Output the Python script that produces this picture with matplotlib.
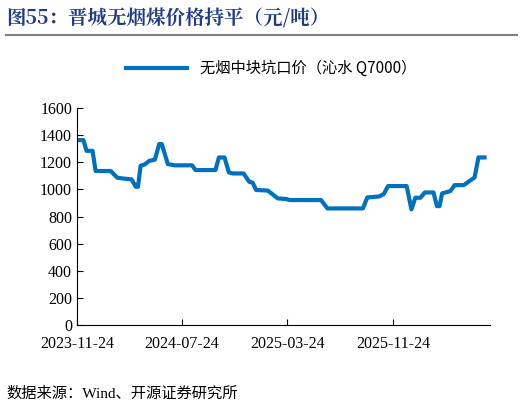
import datetime as dt
import matplotlib
matplotlib.use("Agg")
import matplotlib.pyplot as plt
import matplotlib.dates as mdates

base = dt.date(2023, 11, 24)
# days since 2023-11-24 and price (yuan/ton)
days = [2, 15, 22, 36, 43, 78, 93, 108, 126, 136, 141, 147, 157, 167, 180, 190, 196,
        210, 226, 266, 274, 320, 328, 341, 351, 360, 385, 398, 406, 414, 441, 464,
        483, 491, 564, 579, 661, 671, 698, 709, 719, 762, 773, 782, 794, 804, 824,
        832, 838, 844, 863, 873, 894, 905, 919, 928, 942]
price = [1364, 1364, 1285, 1285, 1136, 1136, 1087, 1080, 1075, 1020, 1020, 1175, 1185,
         1211, 1220, 1335, 1335, 1187, 1178, 1178, 1143, 1143, 1236, 1236, 1126, 1118,
         1118, 1057, 1050, 996, 992, 934, 930, 922, 922, 860, 860, 941, 948, 966, 1025,
         1025, 853, 939, 939, 978, 978, 877, 877, 971, 988, 1032, 1032, 1057, 1089,
         1236, 1236]
tick_dates = ["2023-11-24", "2024-07-24", "2025-03-24", "2025-11-24"]

dates = [base + dt.timedelta(days=d) for d in days]
cjk = ["Noto Sans CJK SC", "DejaVu Sans"]
serif = ["Liberation Serif", "Noto Sans CJK SC"]

fig = plt.figure(figsize=(5.22, 4.08), dpi=100)
ax = fig.add_axes([0.1475, 0.2034, 0.7915, 0.5316])
ax.plot(dates, price, color="#0070C0", lw=3, label="无烟中块坑口价（沁水 Q7000）")

ax.set_ylim(0, 1600)
ax.set_yticks(range(0, 1601, 200))
ax.set_xlim(base, base + dt.timedelta(days=955))
ax.set_xticks([dt.date.fromisoformat(t) for t in tick_dates])
ax.xaxis.set_major_formatter(mdates.DateFormatter("%Y-%m-%d"))
for s in ["top", "right"]:
    ax.spines[s].set_visible(False)
ax.tick_params(direction="in", length=4, labelsize=11.5)
ax.tick_params(axis="x", pad=8)
for lab in ax.get_xticklabels() + ax.get_yticklabels():
    lab.set_family(serif)

leg = ax.legend(loc="lower center", bbox_to_anchor=(0.47, 1.08), frameon=False,
                prop={"family": cjk, "size": 11}, handlelength=4)

fig.text(0.012, 0.955, "图55：晋城无烟煤价格持平（元/吨）", family=["Noto Serif CJK SC", "Noto Sans CJK SC"],
         fontsize=14, fontweight="bold", color="#1F3A8A", va="center")
fig.add_artist(plt.Line2D([0.012, 0.99], [0.915, 0.915], color="#808080", lw=1.5))
fig.text(0.012, 0.035, "数据来源：Wind、开源证券研究所", family=["Liberation Serif", "Noto Sans CJK SC"],
         fontsize=11, va="center")

fig.savefig("out.png", dpi=100)
